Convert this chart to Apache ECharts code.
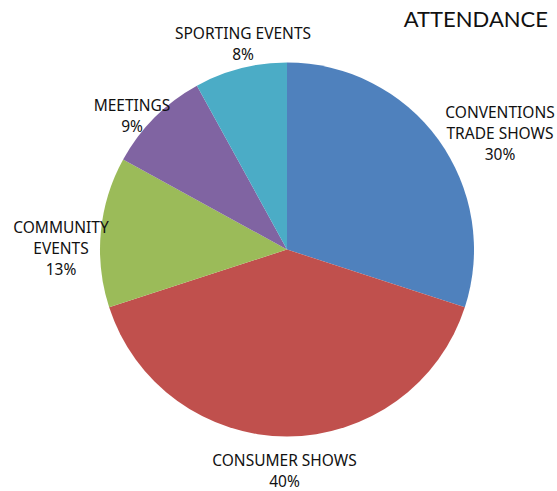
<!DOCTYPE html>
<html>
<head>
<meta charset="utf-8">
<script src="https://cdn.jsdelivr.net/npm/echarts@6/dist/echarts.min.js"></script>
<style>
  html, body { margin: 0; padding: 0; background: #fff; }
  #chart { width: 557px; height: 491px; }
</style>
</head>
<body>
<div id="chart"></div>
<script>
(function() {
  var categories = ['CONVENTIONS\nTRADE SHOWS', 'CONSUMER SHOWS', 'COMMUNITY\nEVENTS', 'MEETINGS', 'SPORTING EVENTS'];
  var shares = [30, 40, 13, 9, 8];
  var colors = ['#4f81bd', '#c0504d', '#9bbb59', '#8064a2', '#4bacc6'];

  // label centres
  var labelPos = [[500, 132.5], [284.5, 470], [61, 248], [132, 115], [243, 43.5]];

  var chart = echarts.init(document.getElementById('chart'), null, { renderer: 'svg' });

  chart.setOption({
    animation: false,
    title: {
      text: 'ATTENDANCE',
      right: 4,
      top: 2,
      textStyle: { fontFamily: 'Lato', fontWeight: 'normal', fontSize: 22, color: '#111', letterSpacing: 1 }
    },
    series: [{
      type: 'pie',
      center: [287, 249.5],
      radius: 187,
      startAngle: 90,
      clockwise: true,
      data: categories.map(function(c, i) {
        return { name: c, value: shares[i], itemStyle: { color: colors[i] } };
      }),
      itemStyle: { borderWidth: 0 },
      label: {
        show: true,
        position: 'outside',
        formatter: function(p) { return p.name + '\n' + p.value + '%'; },
        fontFamily: 'Noto Sans',
        fontSize: 15.5,
        lineHeight: 21,
        color: '#111',
        align: 'center',
        overflow: 'none',
        width: 200
      },
      labelLine: { show: false },
      labelLayout: function(params) {
        var pos = labelPos[params.dataIndex];
        return { x: pos[0], y: pos[1], align: 'center', verticalAlign: 'middle', hideOverlap: false, moveOverlap: false };
      }
    }]
  });
})();
</script>
</body>
</html>
